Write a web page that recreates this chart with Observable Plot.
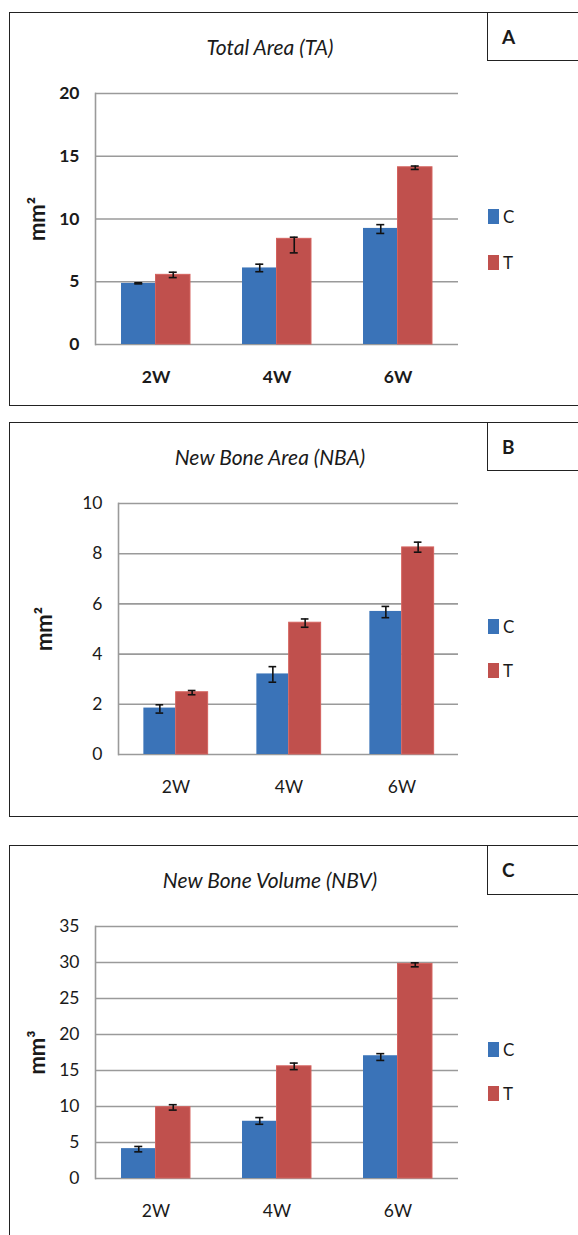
<!DOCTYPE html>
<html>
<head>
<meta charset="utf-8">
<script src="https://cdn.jsdelivr.net/npm/d3@7"></script>
<script src="https://cdn.jsdelivr.net/npm/@observablehq/plot@0.6"></script>
<style>
  html, body { margin: 0; padding: 0; background: #fff; }
  body { width: 578px; height: 1235px; overflow: hidden; position: relative; font-family: Lato, "Open Sans", sans-serif; color: #1a1a1a; }
  .box { position: absolute; border: 1.6px solid #222; box-sizing: border-box; }
  .tag { position: absolute; border-left: 1.6px solid #222; border-bottom: 1.6px solid #222; box-sizing: border-box; font-size: 19px; font-weight: bold; display: flex; align-items: center; padding-left: 14px; }
  .title { position: absolute; font-style: italic; font-size: 21px; transform: translateX(-50%); white-space: nowrap; }
  .leg { position: absolute; font-size: 17px; display: flex; align-items: center; }
  .leg span.sw { display: inline-block; width: 11px; height: 15px; margin-right: 4px; }
  .chart { position: absolute; left: 0; }
  svg g[aria-label="y-axis label"] text { font-size: 22px; font-weight: bold; }
</style>
</head>
<body>
<div id="root"></div>
<script>
// ---- data ----
const weeks = ["2W", "4W", "6W"];
const series = ["C", "T"];
const colors = ["#3A73B8", "#C0504D"];

// Total Area (TA), mm²
const taC = [4.87, 6.1, 9.25];
const taCLo = [4.83, 5.8, 8.85];
const taCHi = [4.92, 6.4, 9.55];
const taT = [5.55, 8.42, 14.12];
const taTLo = [5.33, 7.3, 13.95];
const taTHi = [5.76, 8.55, 14.22];
const taTicks = [0, 5, 10, 15, 20];

// New Bone Area (NBA), mm²
const nbaC = [1.85, 3.21, 5.7];
const nbaCLo = [1.65, 2.88, 5.45];
const nbaCHi = [1.98, 3.5, 5.9];
const nbaT = [2.48, 5.25, 8.25];
const nbaTLo = [2.38, 5.07, 8.06];
const nbaTHi = [2.55, 5.4, 8.46];
const nbaTicks = [0, 2, 4, 6, 8, 10];

// New Bone Volume (NBV), mm³
const nbvC = [4.15, 7.95, 17.05];
const nbvCLo = [3.7, 7.53, 16.4];
const nbvCHi = [4.45, 8.46, 17.34];
const nbvT = [9.9, 15.58, 29.8];
const nbvTLo = [9.5, 15.12, 29.4];
const nbvTHi = [10.25, 16.03, 29.95];
const nbvTicks = [0, 5, 10, 15, 20, 25, 30, 35];

const panels = [
  {letter: "A", title: "Total Area (TA)", unit: "mm²", c: [taC, taCLo, taCHi], t: [taT, taTLo, taTHi], ticks: taTicks,
   top: 0, height: 410, ml: 95, mt: 93, mb: 66, bold: true, labelOffset: 66,
   box: {top: 12, height: 394}, tag: {height: 49}, titleY: 34, legY: [206, 252]},
  {letter: "B", title: "New Bone Area (NBA)", unit: "mm²", c: [nbaC, nbaCLo, nbaCHi], t: [nbaT, nbaTLo, nbaTHi], ticks: nbaTicks,
   top: 410, height: 410, ml: 118, mt: 93, mb: 66, bold: false, labelOffset: 82,
   box: {top: 422, height: 395}, tag: {height: 49}, titleY: 444, legY: [616, 660]},
  {letter: "C", title: "New Bone Volume (NBV)", unit: "mm³", c: [nbvC, nbvCLo, nbvCHi], t: [nbvT, nbvTLo, nbvTHi], ticks: nbvTicks,
   top: 820, height: 415, ml: 95, mt: 106, mb: 57, bold: false, labelOffset: 66,
   box: {top: 845, height: 420}, tag: {height: 50}, titleY: 867, legY: [1039, 1083]}
];

const root = document.getElementById("root");
const W = 578, MR = 120;

for (const p of panels) {
  const box = document.createElement("div");
  box.className = "box";
  Object.assign(box.style, {left: "9px", top: p.box.top + "px", width: "620px", height: p.box.height + "px"});
  root.appendChild(box);
  const tag = document.createElement("div");
  tag.className = "tag";
  tag.textContent = p.letter;
  Object.assign(tag.style, {left: "487px", top: p.box.top + "px", width: "120px", height: p.tag.height + "px"});
  root.appendChild(tag);

  const title = document.createElement("div");
  title.className = "title";
  title.textContent = p.title;
  Object.assign(title.style, {left: "270px", top: p.titleY + "px"});
  root.appendChild(title);

  series.forEach((s, i) => {
    const lg = document.createElement("div");
    lg.className = "leg";
    lg.innerHTML = `<span class="sw" style="background:${colors[i]}"></span>${s}`;
    Object.assign(lg.style, {left: "488px", top: p.legY[i] + "px"});
    root.appendChild(lg);
  });

  const mk = (arr, s) => weeks.map((w, i) => ({week: w, series: s, value: arr[0][i], lo: arr[1][i], hi: arr[2][i]}));
  const dC = mk(p.c, "C"), dT = mk(p.t, "T");

  const plotW = W - p.ml - MR;
  const band = plotW / weeks.length;
  const barW = band * 0.285;
  const inset = (band - barW) / 2;
  const capInset = (band - 8) / 2;
  const yMax = p.ticks[p.ticks.length - 1];

  const errMarks = (d, dx) => [
    Plot.ruleX(d, {x: "week", y1: "lo", y2: "hi", dx, stroke: "#111", strokeWidth: 1.6}),
    Plot.tickY(d, {x: "week", y: "lo", dx, insetLeft: capInset, insetRight: capInset, stroke: "#111", strokeWidth: 1.6}),
    Plot.tickY(d, {x: "week", y: "hi", dx, insetLeft: capInset, insetRight: capInset, stroke: "#111", strokeWidth: 1.6})
  ];

  const chart = Plot.plot({
    width: W,
    height: p.height,
    marginLeft: p.ml,
    marginRight: MR,
    marginTop: p.mt,
    marginBottom: p.mb,
    x: {domain: weeks, padding: 0, tickSize: 0, tickPadding: 26, label: null},
    y: {domain: [0, yMax], ticks: p.ticks, tickSize: 0, tickPadding: 16, label: p.unit, labelAnchor: "center", labelOffset: p.labelOffset, labelArrow: "none"},
    style: {fontFamily: "Lato, 'Open Sans', sans-serif", fontSize: "17.5px", color: "#1a1a1a", background: "transparent", fontWeight: p.bold ? "bold" : "normal"},
    marks: [
      Plot.ruleY(p.ticks, {stroke: "#9a9a9a", strokeWidth: 1.6}),
      Plot.frame({anchor: "left", stroke: "#9a9a9a", strokeWidth: 1.6}),
      Plot.barY(dC, {x: "week", y: "value", fill: colors[0], insetLeft: inset, insetRight: inset, dx: -barW / 2}),
      Plot.barY(dT, {x: "week", y: "value", fill: colors[1], stroke: "#D4625E", strokeWidth: 1, insetLeft: inset, insetRight: inset, dx: barW / 2}),
      ...errMarks(dC, -barW / 2),
      ...errMarks(dT, barW / 2)
    ]
  });
  chart.classList.add("chart");
  chart.style.top = p.top + "px";
  root.appendChild(chart);
}
</script>
</body>
</html>
